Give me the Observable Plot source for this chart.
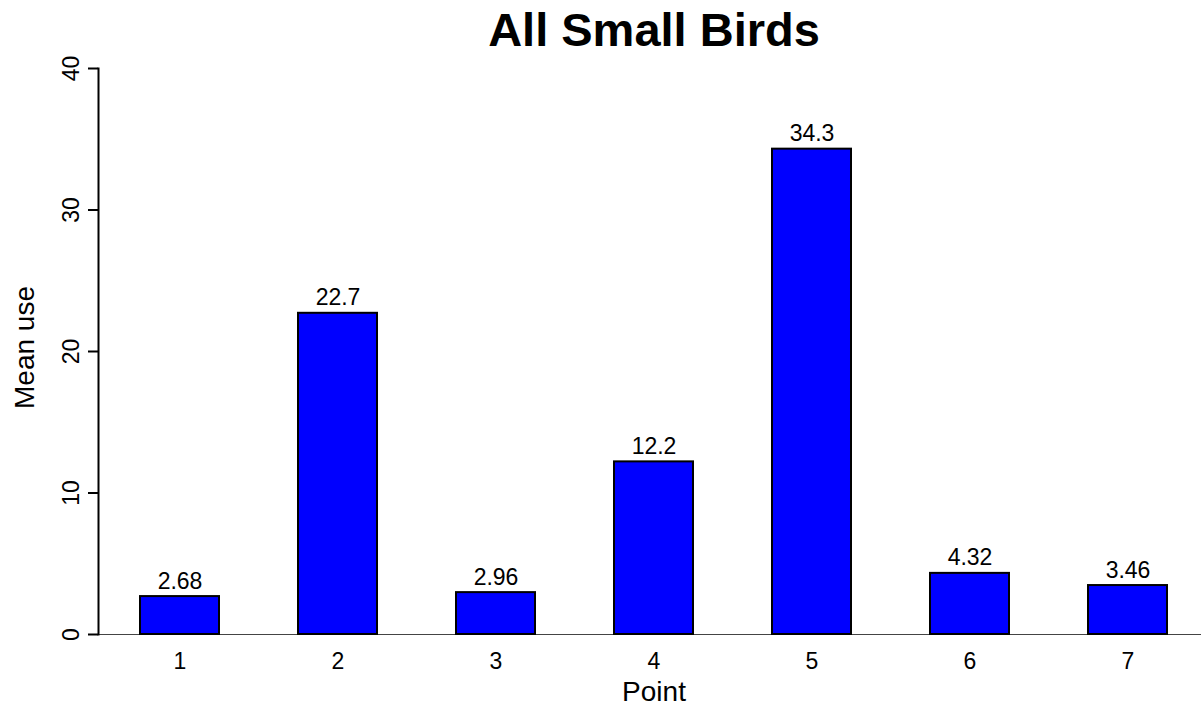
<!DOCTYPE html>
<html>
<head>
<meta charset="utf-8">
<script src="https://cdn.jsdelivr.net/npm/d3@7"></script>
<script src="https://cdn.jsdelivr.net/npm/@observablehq/plot@0.6"></script>
<style>
  html, body { margin: 0; padding: 0; background: #fff; }
  body { width: 1201px; height: 706px; overflow: hidden; font-family: "Liberation Sans", Arial, Helvetica, sans-serif; }
  #title { height: 50px; line-height: 50px; padding-top: 5px; padding-left: 107px; text-align: center; font-size: 47px; font-weight: bold; color: #000; }
</style>
</head>
<body>
<div id="title">All Small Birds</div>
<div id="chart"></div>
<script>
const points = ["1", "2", "3", "4", "5", "6", "7"];
const meanUse = [2.68, 22.7, 2.96, 12.2, 34.3, 4.32, 3.46];
const yTicks = [0, 10, 20, 30, 40];
const xLabel = "Point";
const yLabel = "Mean use";

const data = points.map((p, i) => ({point: p, value: meanUse[i]}));
const fmt = d3.format(".3r");

const chart = Plot.plot({
  width: 1201,
  height: 651,
  marginTop: 13,
  marginBottom: 72,
  marginLeft: 98,
  marginRight: 0,
  style: {fontFamily: '"Liberation Sans", Arial, Helvetica, sans-serif', background: "white", color: "black", overflow: "visible"},
  x: {type: "band", domain: points, range: [99.8, 1206.3], paddingInner: 0.5, paddingOuter: 0.25, align: 0.5},
  y: {domain: [0, 40]},
  marks: [
    Plot.ruleY([0], {stroke: "#444", strokeWidth: 1.2}),
    Plot.barY(data, {x: "point", y: "value", fill: "#0000ff", stroke: "black", strokeWidth: 2}),
    Plot.text(data, {x: "point", y: "value", text: d => fmt(d.value), dy: -8, lineAnchor: "bottom", fontSize: 23, fill: "black"}),
    Plot.frame({anchor: "left", stroke: "black", strokeWidth: 2}),
    Plot.axisY({ticks: yTicks, tickSize: 10, tickRotate: -90, tickPadding: 10, fontSize: 23, strokeWidth: 2, label: null}),
    Plot.axisX({tickSize: 0, tickPadding: 18, fontSize: 23, label: null}),
    Plot.text([xLabel], {frameAnchor: "bottom", dx: 4, dy: 66, lineAnchor: "bottom", fontSize: 28, fill: "black"}),
    Plot.text([yLabel], {frameAnchor: "left", dx: -73, dy: -4, rotate: -90, textAnchor: "middle", lineAnchor: "middle", fontSize: 28, fill: "black"})
  ]
});
document.getElementById("chart").appendChild(chart);
</script>
</body>
</html>
